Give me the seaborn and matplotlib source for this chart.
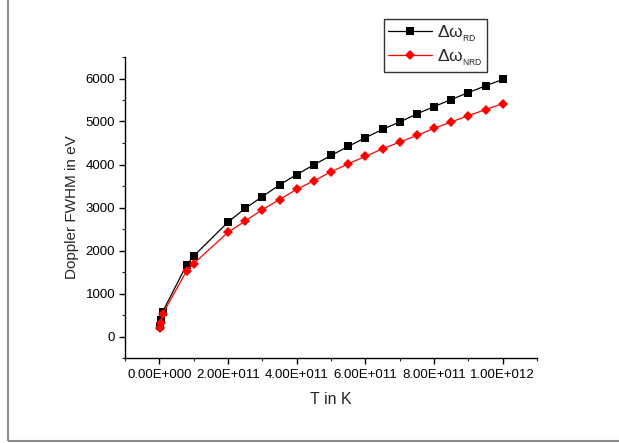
import matplotlib
matplotlib.use("Agg")
import matplotlib.pyplot as plt
from matplotlib.patches import Rectangle
from matplotlib.ticker import MultipleLocator, FuncFormatter
import seaborn as sns
import pandas as pd

# Temperature (K) and Doppler widths (eV)
temperature = [1e9, 5e9, 1e10, 8e10, 1e11, 2e11, 2.5e11, 3e11, 3.5e11, 4e11, 4.5e11,
               5e11, 5.5e11, 6e11, 6.5e11, 7e11, 7.5e11, 8e11, 8.5e11, 9e11, 9.5e11, 1e12]
width_rd = [240, 380, 580, 1673, 1870, 2660, 2980, 3253, 3525, 3766, 3992,
            4210, 4420, 4622, 4817, 4988, 5175, 5346, 5510, 5673, 5829, 5977]
width_nrd = [200, 320, 530, 1533, 1696, 2423, 2685, 2949, 3183, 3424, 3619,
             3829, 4016, 4187, 4366, 4521, 4677, 4840, 4988, 5136, 5276, 5416]
label_rd = r"$\mathrm{\Delta\omega}_{_{\mathrm{RD}}}$"
label_nrd = r"$\mathrm{\Delta\omega}_{_{\mathrm{NRD}}}$"

sns.set_theme(style="white")
plt.rcParams["font.family"] = ["Liberation Sans", "DejaVu Sans"]
plt.rcParams["mathtext.fontset"] = "custom"
plt.rcParams["mathtext.rm"] = "Liberation Sans"
plt.rcParams["mathtext.it"] = "Liberation Sans:italic"

df = pd.DataFrame({"T": temperature, "rd": width_rd, "nrd": width_nrd})

fig = plt.figure(figsize=(6.19, 4.43), dpi=100)
ax = fig.add_axes([125 / 619, 1 - 358 / 443, (537 - 125) / 619, (358 - 57) / 443])

sns.lineplot(data=df, x="T", y="rd", ax=ax, color="black", marker="s",
             markersize=5.2, markeredgewidth=0, linewidth=0.9, label=label_rd)
sns.lineplot(data=df, x="T", y="nrd", ax=ax, color="red", marker="D",
             markersize=5.0, markeredgewidth=0, linewidth=0.9, label=label_nrd)

ax.set_xlim(-1e11, 1.1e12)
ax.set_ylim(-500, 6500)
ax.xaxis.set_major_locator(MultipleLocator(2e11))
ax.xaxis.set_minor_locator(MultipleLocator(1e11))
ax.yaxis.set_major_locator(MultipleLocator(1000))
ax.yaxis.set_minor_locator(MultipleLocator(500))


def sci_label(v, pos):
    if v == 0:
        return "0.00E+000"
    s = f"{v:.2E}"
    mant, exp = s.split("E")
    return f"{mant}E+{int(exp):03d}"


ax.xaxis.set_major_formatter(FuncFormatter(sci_label))
ax.tick_params(axis="both", which="major", direction="out", length=4, width=1,
               labelsize=9.5, colors="black", pad=3, bottom=True, left=True)
ax.tick_params(axis="both", which="minor", direction="out", length=2.5, width=0.8,
               bottom=True, left=True)
ax.tick_params(axis="x", pad=4)

for side in ("top", "right"):
    ax.spines[side].set_visible(False)
for side in ("left", "bottom"):
    ax.spines[side].set_color("black")
    ax.spines[side].set_linewidth(1.0)

ax.set_xlabel("T in K", fontsize=11.5, labelpad=8)
ax.set_ylabel("Doppler FWHM in eV", fontsize=11, labelpad=5)

ax.get_legend().remove()
handles, labels = ax.get_legend_handles_labels()
leg = fig.legend(handles, labels, loc="upper left",
                 bbox_to_anchor=(384 / 619, 1 - 19 / 443), fontsize=12.5,
                 frameon=True, fancybox=False, handlelength=2.5,
                 borderpad=0.25, labelspacing=0.2, handletextpad=0.3,
                 borderaxespad=0)
leg.get_frame().set_edgecolor("black")
leg.get_frame().set_linewidth(1.0)

# page frame around the figure
fig.patches.append(Rectangle((8 / 619, 1 - 441 / 443), 1.2, 1.2,
                             transform=fig.transFigure, fill=False,
                             edgecolor="#8c8c8c", linewidth=1.5))

fig.savefig("out.png", dpi=100)
